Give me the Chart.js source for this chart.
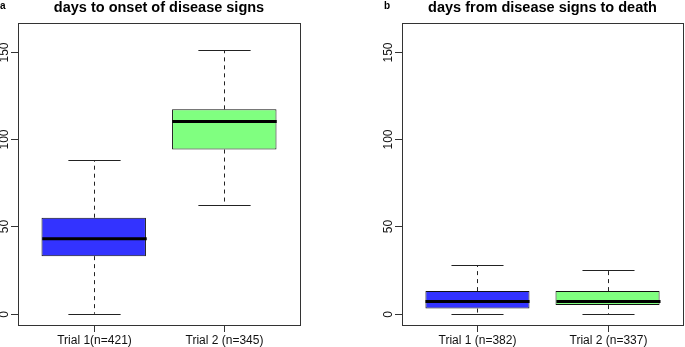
<!DOCTYPE html>
<html>
<head>
<meta charset="utf-8">
<script src="https://cdn.jsdelivr.net/npm/chart.js@4/dist/chart.umd.min.js"></script>
<style>
html,body{margin:0;padding:0;background:#fff;}
#wrap{position:relative;width:685px;height:347px;}
canvas{position:absolute;top:0;}
#chartA{left:0;}
#chartB{left:342px;}
</style>
</head>
<body>
<div id="wrap">
<canvas id="chartA" width="342" height="347"></canvas>
<canvas id="chartB" width="343" height="347"></canvas>
</div>
<script>
// panel a : days to onset of disease signs
const onsetLabels = ["Trial 1(n=421)", "Trial 2 (n=345)"];
const onsetMin = [0, 62];
const onsetQ1 = [33, 94];
const onsetMedian = [43, 110];
const onsetQ3 = [55, 117];
const onsetMax = [88, 151];

// panel b : days from disease signs to death
const deathLabels = ["Trial 1 (n=382)", "Trial 2 (n=337)"];
const deathMin = [0, 0];
const deathQ1 = [3, 5];
const deathMedian = [7, 7];
const deathQ3 = [13, 13];
const deathMax = [28, 25];

const yTicks = [0, 50, 100, 150];
const boxColors = ["#3333ff", "#80ff80"];

const FONT = '"Liberation Sans", Arial, Helvetica, sans-serif';

function line(ctx, x1, y1, x2, y2){
ctx.beginPath();
ctx.moveTo(x1, y1);
ctx.lineTo(x2, y2);
ctx.stroke();
}

function boxChart(id, tag, title, labels, mins, q1s, meds, q3s, maxs, pad){

/* whiskers, medians, frame and axes drawn like R's boxplot */
let rbox = {
id: "rbox",
afterDatasetsDraw(chart){
let ctx = chart.ctx;
let xs = chart.scales.x, ys = chart.scales.y;
let a = chart.chartArea;
let meta = chart.getDatasetMeta(0);
ctx.save();

meta.data.forEach((bar, i)=>{
let x = Math.round(xs.getPixelForValue(i+1)) + 0.5;
let w = bar.width;
let yMin = ys.getPixelForValue(mins[i]);
let yQ1 = ys.getPixelForValue(q1s[i]);
let yMed = ys.getPixelForValue(meds[i]);
let yQ3 = ys.getPixelForValue(q3s[i]);
let yMax = ys.getPixelForValue(maxs[i]);

ctx.strokeStyle = "#222";
ctx.lineWidth = 1;
ctx.setLineDash([4, 4]);
line(ctx, x, yQ3, x, yMax);
line(ctx, x, yQ1, x, yMin);
ctx.setLineDash([]);
line(ctx, x - w/4, Math.round(yMax)+0.5, x + w/4, Math.round(yMax)+0.5);
line(ctx, x - w/4, Math.round(yMin)+0.5, x + w/4, Math.round(yMin)+0.5);

ctx.strokeStyle = "#000";
ctx.lineWidth = 3;
line(ctx, x - w/2, yMed, x + w/2, yMed);
});

/* frame */
ctx.strokeStyle = "#333";
ctx.lineWidth = 1;
ctx.strokeRect(Math.round(a.left)+0.5, Math.round(a.top)+0.5,
Math.round(a.right - a.left), Math.round(a.bottom - a.top));

/* y axis */
ctx.fillStyle = "#111";
ctx.font = "12px " + FONT;
ctx.textAlign = "center";
ctx.textBaseline = "middle";
yTicks.forEach(t=>{
let y = Math.round(ys.getPixelForValue(t)) + 0.5;
line(ctx, a.left - 7, y, a.left, y);
ctx.save();
ctx.translate(a.left - 13.5, y);
ctx.rotate(-Math.PI/2);
ctx.fillText(String(t), 0, 0);
ctx.restore();
});

/* x axis */
labels.forEach((lab, i)=>{
let x = Math.round(xs.getPixelForValue(i+1)) + 0.5;
line(ctx, x, a.bottom, x, a.bottom + 7);
ctx.fillText(lab, x, a.bottom + 16);
});

/* titles */
ctx.fillStyle = "#000";
ctx.font = "bold 14.5px " + FONT;
ctx.textBaseline = "alphabetic";
ctx.fillText(title, (a.left + a.right)/2, 12);
ctx.font = "bold 10px " + FONT;
ctx.textAlign = "left";
ctx.fillText(tag, tag === "a" ? 0 : a.left - 18, 9);

ctx.restore();
}
};

let data = labels.map((l, i)=>({x: i+1, y: [q1s[i], q3s[i]]}));

return new Chart(document.getElementById(id), {
type: "bar",
data: {
datasets: [{
data: data,
backgroundColor: boxColors,
borderColor: "#111",
borderWidth: 1,
borderSkipped: false,
categoryPercentage: 0.8,
barPercentage: 1.0
}]
},
options: {
responsive: false,
animation: false,
layout: {padding: pad},
plugins: {legend: {display: false}, tooltip: {enabled: false}, title: {display: false}},
scales: {
x: {
type: "linear",
offset: false,
min: 0.42,
max: 2.58,
display: false,
afterBuildTicks: s=>{ s.ticks = [{value: 1}, {value: 2}]; }
},
y: {
min: -6.4,
max: 166.4,
display: false
}
}
},
plugins: [rbox]
});

}

boxChart("chartA", "a", "days to onset of disease signs", onsetLabels,
onsetMin, onsetQ1, onsetMedian, onsetQ3, onsetMax,
{left: 18, top: 23, right: 42, bottom: 22});

boxChart("chartB", "b", "days from disease signs to death", deathLabels,
deathMin, deathQ1, deathMedian, deathQ3, deathMax,
{left: 60, top: 23, right: 2, bottom: 22});
</script>
</body>
</html>
